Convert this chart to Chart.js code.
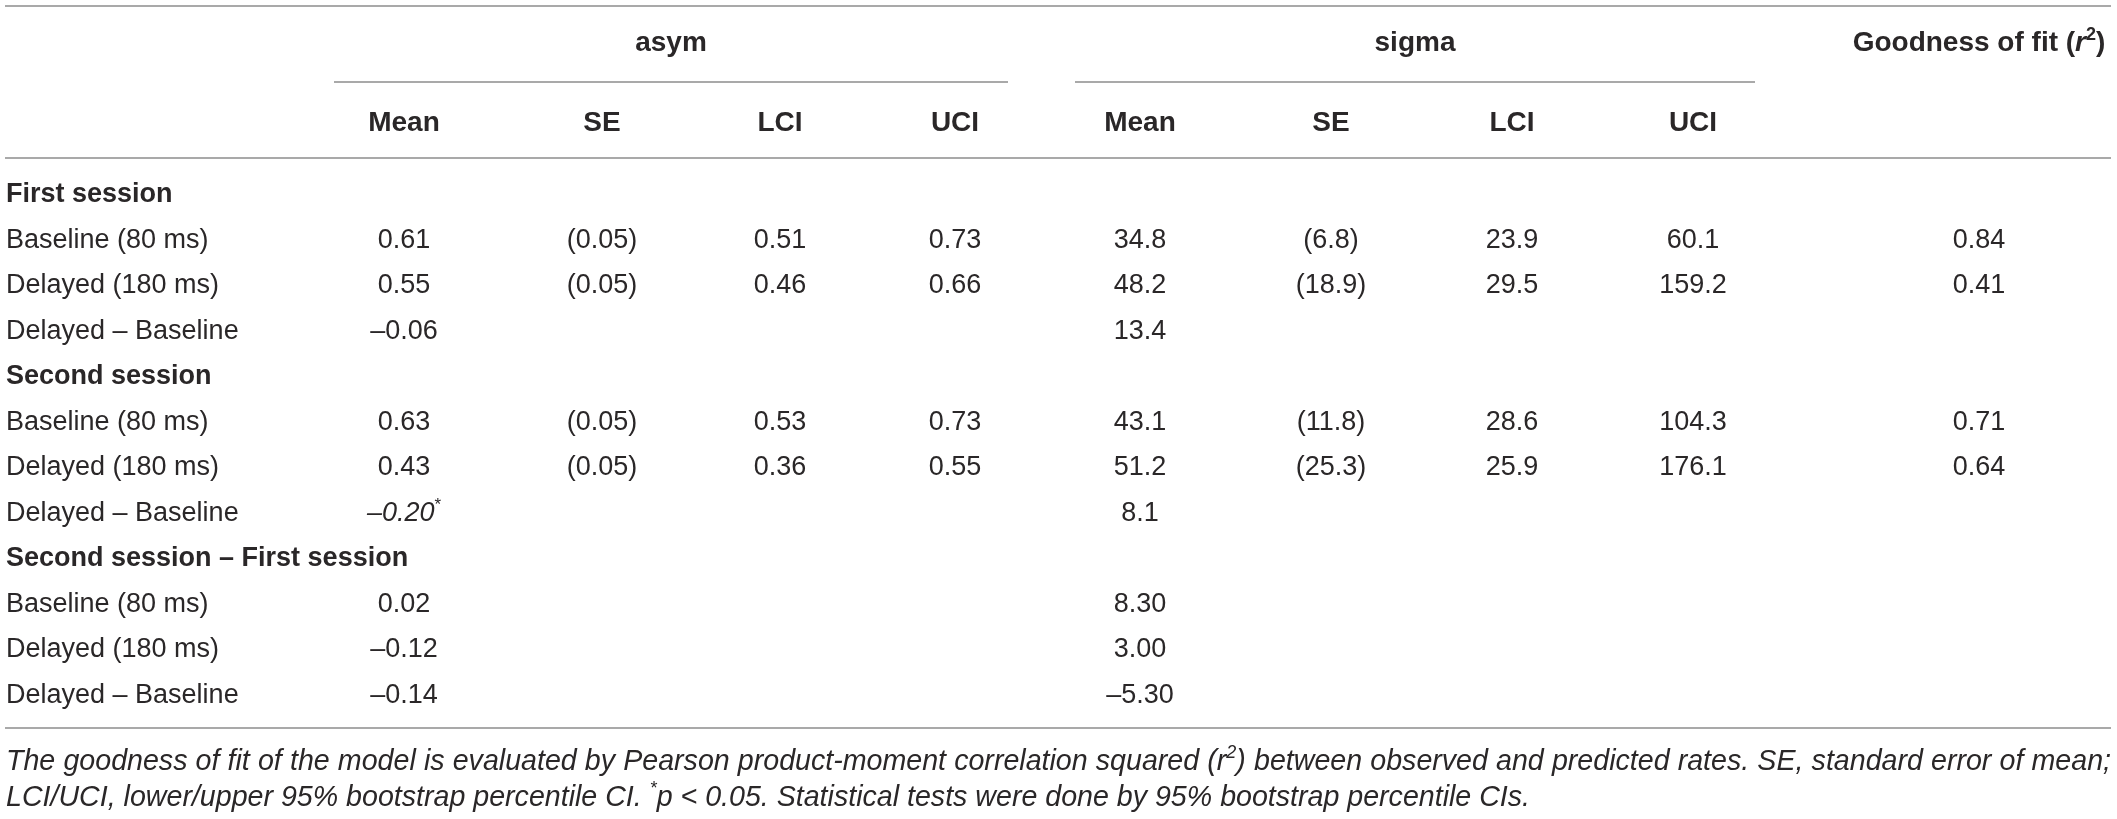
<!DOCTYPE html>
<html>
<head>
<meta charset="utf-8">
<script src="https://cdn.jsdelivr.net/npm/chart.js@4.4.0/dist/chart.umd.min.js"></script>
<style>
  html, body { margin: 0; padding: 0; background: #fff; }
  #wrap { width: 2117px; height: 819px; position: relative; }
</style>
</head>
<body>
<div id="wrap"><canvas id="tbl"></canvas></div>
<script>
/* DATA */
const rowLabels = [
    'First session', 'Baseline (80 ms)', 'Delayed (180 ms)', 'Delayed – Baseline',
    'Second session', 'Baseline (80 ms)', 'Delayed (180 ms)', 'Delayed – Baseline',
    'Second session – First session', 'Baseline (80 ms)', 'Delayed (180 ms)', 'Delayed – Baseline'
];
const sectionRows = [0, 4, 8];
const groupHeads = ['asym', 'sigma'];
const subHeads = ['Mean', 'SE', 'LCI', 'UCI', 'Mean', 'SE', 'LCI', 'UCI'];

const asymMean  = ['', '0.61', '0.55', '–0.06', '', '0.63', '0.43', '–0.20', '', '0.02', '–0.12', '–0.14'];
const asymSE    = ['', '(0.05)', '(0.05)', '', '', '(0.05)', '(0.05)', '', '', '', '', ''];
const asymLCI   = ['', '0.51', '0.46', '', '', '0.53', '0.36', '', '', '', '', ''];
const asymUCI   = ['', '0.73', '0.66', '', '', '0.73', '0.55', '', '', '', '', ''];
const sigmaMean = ['', '34.8', '48.2', '13.4', '', '43.1', '51.2', '8.1', '', '8.30', '3.00', '–5.30'];
const sigmaSE   = ['', '(6.8)', '(18.9)', '', '', '(11.8)', '(25.3)', '', '', '', '', ''];
const sigmaLCI  = ['', '23.9', '29.5', '', '', '28.6', '25.9', '', '', '', '', ''];
const sigmaUCI  = ['', '60.1', '159.2', '', '', '104.3', '176.1', '', '', '', '', ''];
const fitR2     = ['', '0.84', '0.41', '', '', '0.71', '0.64', '', '', '', '', ''];
// cells marked * (p < 0.05): [column, row]
const significant = [[0, 7]];

const note1 = [
    { t: 'The goodness of fit of the model is evaluated by Pearson product-moment correlation squared (' },
    { t: 'r' }, { t: '2', sup: true },
    { t: ') between observed and predicted rates. SE, standard error of mean;' }
];
const note2 = [
    { t: 'LCI/UCI, lower/upper 95% bootstrap percentile CI. ' }, { t: '*', sup: true },
    { t: 'p < 0.05. Statistical tests were done by 95% bootstrap percentile CIs.' }
];
/* DATA */

/* LAYOUT */
const FONT = '"Liberation Sans", Arial, sans-serif';
const INK = '#2a2728';
const RULE = '#8c8c8c';
const columns = [asymMean, asymSE, asymLCI, asymUCI, sigmaMean, sigmaSE, sigmaLCI, sigmaUCI, fitR2];
const colCentre = [404, 602, 780, 955, 1140, 1331, 1512, 1693, 1979];
const groupSpan = [[334, 1008], [1075, 1755]];
const tableLeft = 5, tableRight = 2111;
const yTop = 6, yGroup = 43, yGroupRule = 82, ySub = 123, yHeadRule = 158, yBottomRule = 728;
const yNote1 = 762, yNote2 = 798;

function segFont(s, base) {
    const size = s.sup ? Math.round(base.size * 0.64) : base.size;
    const ital = (s.italic || base.italic) ? 'italic ' : '';
    return ital + (base.weight || 'normal') + ' ' + size + 'px ' + FONT;
}

function drawRich(ctx, segs, x, y, base) {
    ctx.save();
    ctx.fillStyle = INK;
    ctx.textBaseline = 'middle';
    ctx.textAlign = 'left';
    let w = 0, spaces = 0;
    segs.forEach(s => {
        ctx.font = segFont(s, base);
        w += ctx.measureText(s.t).width;
        spaces += (s.t.match(/ /g) || []).length;
    });
    const gap = base.justify ? (base.justify - w) / spaces : 0;
    let cx = base.align === 'center' ? x - w / 2 : x;
    segs.forEach(s => {
        ctx.font = segFont(s, base);
        const dy = s.sup ? -base.size * 0.3 : 0;
        if (gap) {
            const words = s.t.split(' ');
            words.forEach((word, k) => {
                ctx.fillText(word, cx, y + dy);
                cx += ctx.measureText(word).width;
                if (k < words.length - 1) cx += ctx.measureText(' ').width + gap;
            });
        } else {
            ctx.fillText(s.t, cx, y + dy);
            cx += ctx.measureText(s.t).width;
        }
    });
    ctx.restore();
}

function hRule(ctx, x0, x1, y) {
    ctx.beginPath();
    ctx.moveTo(x0, y);
    ctx.lineTo(x1, y);
    ctx.stroke();
}

/* cells become points on the chart, the plugin writes their text */
const cells = [];
columns.forEach((col, c) => {
    col.forEach((v, r) => {
        if (!v) return;
        const sig = significant.some(s => s[0] === c && s[1] === r);
        cells.push({ x: colCentre[c], y: r, text: v, sig: sig });
    });
});

const tablePlugin = {
    id: 'tableText',
    afterDatasetsDraw(chart) {
        const ctx = chart.ctx;
        const meta = chart.getDatasetMeta(0);
        meta.data.forEach((pt, i) => {
            const d = chart.data.datasets[0].data[i];
            const segs = d.sig ? [{ t: d.text, italic: true }, { t: '*', sup: true }] : [{ t: d.text }];
            drawRich(ctx, segs, pt.x, pt.y, { size: 27, align: 'center' });
        });
    },
    afterDraw(chart) {
        const ctx = chart.ctx;
        ctx.save();
        ctx.strokeStyle = RULE;
        ctx.lineWidth = 1.5;
        hRule(ctx, tableLeft, tableRight, yTop);
        groupSpan.forEach(g => hRule(ctx, g[0], g[1], yGroupRule));
        hRule(ctx, tableLeft, tableRight, yHeadRule);
        hRule(ctx, tableLeft, tableRight, yBottomRule);
        ctx.restore();

        const head = { size: 28, weight: 'bold', align: 'center' };
        groupHeads.forEach((g, i) => {
            drawRich(ctx, [{ t: g }], (groupSpan[i][0] + groupSpan[i][1]) / 2, yGroup, head);
        });
        drawRich(ctx, [{ t: 'Goodness of fit (' }, { t: 'r', italic: true }, { t: '2', sup: true }, { t: ')' }],
            colCentre[8], yGroup, head);
        subHeads.forEach((s, i) => drawRich(ctx, [{ t: s }], colCentre[i], ySub, head));

        drawRich(ctx, note1, tableLeft + 1, yNote1, { size: 28.6, italic: true, justify: tableRight - tableLeft - 1 });
        drawRich(ctx, note2, tableLeft + 1, yNote2, { size: 28.6, italic: true });
    }
};

var config = {
    type: 'scatter',
    data: {
        datasets: [{ data: cells, pointRadius: 0, pointHoverRadius: 0 }]
    },
    options: {
        responsive: true,
        maintainAspectRatio: false,
        animation: false,
        events: [],
        layout: { padding: { top: 172, bottom: 101, left: 0, right: 0 } },
        plugins: { legend: { display: false }, tooltip: { enabled: false } },
        scales: {
            x: { type: 'linear', min: 0, max: 2117, display: false },
            y: {
                type: 'linear',
                reverse: true,
                min: -0.5,
                max: rowLabels.length - 0.5,
                position: 'left',
                grid: { display: false, drawTicks: false },
                border: { display: false },
                afterBuildTicks: function(scale) {
                    scale.ticks = rowLabels.map((_, i) => ({ value: i }));
                },
                afterFit: function(scale) { scale.width = 0; },
                ticks: {
                    mirror: true,
                    padding: 6,
                    autoSkip: false,
                    color: INK,
                    callback: function(value) { return rowLabels[value]; },
                    font: function(ctx) {
                        const bold = ctx.tick && sectionRows.includes(ctx.tick.value);
                        return { family: FONT, size: 27, weight: bold ? 'bold' : 'normal' };
                    }
                }
            }
        }
    },
    plugins: [tablePlugin]
};

window.onload = function() {
    var ctx = document.getElementById('tbl').getContext('2d');
    window.myChart = new Chart(ctx, config);
};
</script>
</body>
</html>
